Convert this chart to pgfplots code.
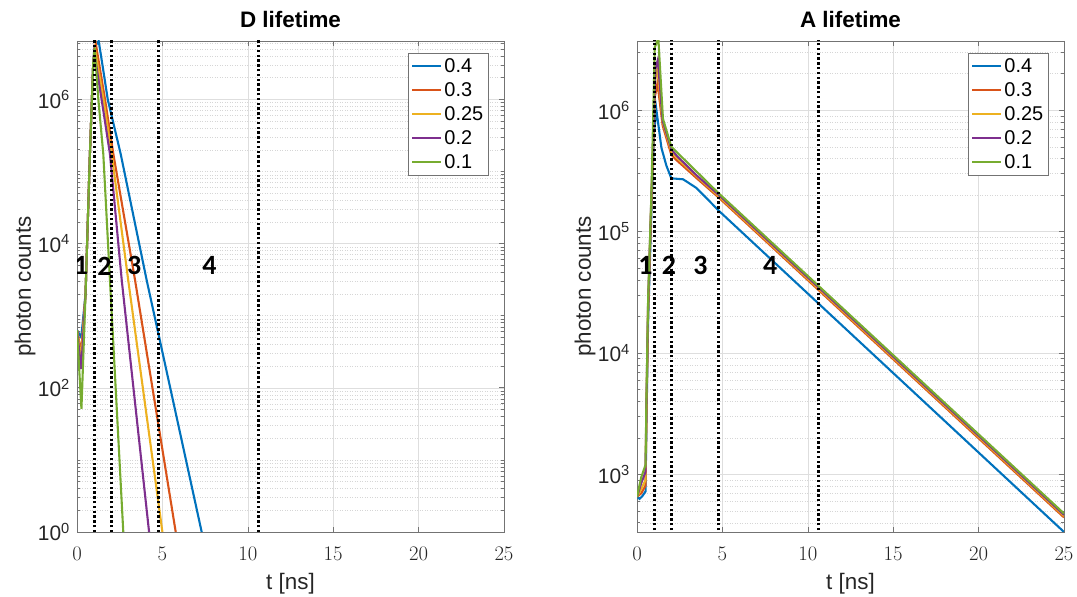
\documentclass[border=0pt]{standalone}
\usepackage{fontspec}
\setmainfont{Liberation Sans}
\newfontfamily\calib{Carlito}
\usepackage{pgfplots}
\pgfplotsset{compat=1.18}
\definecolor{mblue}{rgb}{0,0.447,0.741}
\definecolor{morange}{rgb}{0.85,0.325,0.098}
\definecolor{myellow}{rgb}{0.929,0.694,0.125}
\definecolor{mpurple}{rgb}{0.494,0.184,0.556}
\definecolor{mgreen}{rgb}{0.466,0.674,0.188}
\pgfplotsset{legend image code/.code={\draw[#1] (0bp,0bp) -- (29bp,0bp);}}
\pgfplotsset{
  myax/.style={
    scale only axis, width=427bp, height=491bp,
    xmin=0, xmax=25, xtick={0,5,10,15,20,25},
    grid=both, xminorgrids=false,
    major grid style={line width=0.5bp, color=black!13},
    minor grid style={line width=0.5bp, color=black!16, dash pattern=on 1bp off 1.5bp},
    axis line style={black!55, line width=0.6bp},
    tick style={black!55, line width=0.6bp},
    major tick length=5bp, minor tick length=3bp,
    tick label style={font=\fontsize{21}{22}\selectfont, text=black!85},
    xticklabel style={inner sep=0pt, anchor=north, yshift=-15bp},
    yticklabel style={inner sep=0pt, anchor=east, xshift=-7bp},
    label style={font=\fontsize{22.5}{24}\selectfont, text=black!85},
    xlabel style={at={(axis description cs:0.5,0)}, anchor=north, inner sep=0pt, yshift=-41bp},
    ylabel style={at={(axis description cs:0,0.5)}, anchor=center, inner sep=0pt, yshift=52bp},
    title style={at={(axis description cs:0.5,1)}, anchor=center, inner sep=0pt, yshift=16bp,
      font=\bfseries\fontsize{22.5}{25}\selectfont},
    xlabel={t [ns]}, ylabel={photon counts},
    legend style={at={(0.965,0.976)}, anchor=north east, draw=black!55, line width=0.6bp,
      font=\fontsize{20}{22}\selectfont, row sep=4.5bp, inner sep=3.5bp},
    legend cell align=left,
  },
}
\tikzset{
  vl/.style={black, line width=3bp, dash pattern=on 2.4bp off 2.4bp},
  rl/.style={font=\calib\bfseries\fontsize{28}{30}\selectfont},
  cv/.style={line width=2.1bp},
}
\begin{document}
\begin{tikzpicture}
\path[use as bounding box] (0,0) rectangle (1077bp,597bp);
% ---------------- D lifetime ----------------
\begin{axis}[myax, ymode=log, at={(77bp,65bp)}, anchor=south west,
  title={D lifetime}, ymin=1, ymax=6.45e6,
  ytick={1,100,10000,1000000},
  yticklabels={10\textsuperscript{0},10\textsuperscript{2},10\textsuperscript{4},10\textsuperscript{6}},
  minor ytick={2,3,4,5,6,7,8,9,10,20,30,40,50,60,70,80,90,200,300,400,500,600,700,800,900,1000,2000,3000,4000,5000,6000,7000,8000,9000,20000,30000,40000,50000,60000,70000,80000,90000,100000,200000,300000,400000,500000,600000,700000,800000,900000,2000000,3000000,4000000,5000000,6000000},
]
\addplot[cv, mblue] coordinates {(0,630)(0.25,500)(0.5,2000)(0.75,1.6e5)(0.95,3.2e6)(1.1,5.6e6)(1.27,6.45e6)(1.5,2.9e6)(1.8,1.0e6)(2.56,1.74e5)(4.08,3100)(5.5,90)(7.3,1)(7.6,0.5)};
\addplot[cv, morange] coordinates {(0,630)(0.25,310)(0.5,2000)(0.75,1.6e5)(0.95,3.2e6)(1.11,5.75e6)(1.64,1.0e6)(2.13,1.74e5)(3.4,3100)(5.78,1)(6.1,0.35)};
\addplot[cv, myellow] coordinates {(0,630)(0.25,250)(0.5,2000)(0.75,1.6e5)(0.95,3.2e6)(1.05,5.0e6)(1.55,1.0e6)(2.03,1.74e5)(3.0,3100)(5.0,1)(5.3,0.3)};
\addplot[cv, mpurple] coordinates {(0,630)(0.25,182)(0.5,2000)(0.75,1.6e5)(0.95,3.2e6)(1.0,4.6e6)(1.44,1.0e6)(1.93,1.74e5)(2.62,3100)(4.22,1)(4.5,0.25)};
\addplot[cv, mgreen] coordinates {(0,630)(0.26,51)(0.5,2000)(0.75,1.6e5)(0.95,3.2e6)(1.03,5.2e6)(1.25,1.0e6)(1.54,1.74e5)(1.93,3100)(2.71,1)(2.8,0.4)};
\legend{0.4,0.3,0.25,0.2,0.1}
\addplot[vl, forget plot] coordinates {(1.0,0.1)(1.0,1e8)};
\addplot[vl, forget plot] coordinates {(2.0,0.1)(2.0,1e8)};
\addplot[vl, forget plot] coordinates {(4.8,0.1)(4.8,1e8)};
\addplot[vl, forget plot] coordinates {(10.6,0.1)(10.6,1e8)};
\node[rl] at (axis cs:0.23,4900) {1};
\node[rl] at (axis cs:1.6,4900) {2};
\node[rl] at (axis cs:3.35,4900) {3};
\node[rl] at (axis cs:7.75,4900) {4};
\end{axis}
% ---------------- A lifetime ----------------
\begin{axis}[myax, ymode=log, at={(637bp,65bp)}, anchor=south west,
  title={A lifetime}, ymin=336, ymax=3.72e6,
  ytick={1000,10000,100000,1000000},
  yticklabels={10\textsuperscript{3},10\textsuperscript{4},10\textsuperscript{5},10\textsuperscript{6}},
  minor ytick={400,500,600,700,800,900,2000,3000,4000,5000,6000,7000,8000,9000,20000,30000,40000,50000,60000,70000,80000,90000,200000,300000,400000,500000,600000,700000,800000,900000,2000000,3000000},
]
\addplot[cv, mblue] coordinates {(0,656)(0.15,630)(0.3,660)(0.5,725)(0.55,2500)(0.65,1.8e4)(0.84,1.4e5)(1.0,6.5e5)(1.13,1.02e6)(1.43,4.9e5)(1.72,3.5e5)(2.01,2.75e5)(2.7,2.7e5)(3.48,2.29e5)(4.85,1.46e5)(25,336)};
\addplot[cv, morange] coordinates {(0,656)(0.25,700)(0.5,810)(0.55,3000)(0.65,2.2e4)(0.84,1.7e5)(1.05,1.3e6)(1.2,1.67e6)(1.5,7.5e5)(2.01,4.3e5)(2.3,3.9e5)(3.5,2.75e5)(4.8,1.9e5)(25,443)};
\addplot[cv, myellow] coordinates {(0,656)(0.25,760)(0.5,900)(0.55,3300)(0.65,2.4e4)(0.84,1.8e5)(1.07,1.8e6)(1.2,2.2e6)(1.5,8.0e5)(2.01,4.6e5)(2.3,4.1e5)(3.5,2.85e5)(4.8,1.95e5)(25,455)};
\addplot[cv, mpurple] coordinates {(0,656)(0.25,850)(0.5,1050)(0.55,3600)(0.65,2.6e4)(0.84,1.9e5)(1.08,2.2e6)(1.22,2.6e6)(1.5,8.2e5)(2.01,4.8e5)(2.3,4.25e5)(3.5,2.9e5)(4.8,2.0e5)(25,465)};
\addplot[cv, mgreen] coordinates {(0,656)(0.25,950)(0.5,1200)(0.55,4000)(0.65,2.75e4)(0.84,2.0e5)(1.04,3.3e6)(1.25,3.9e6)(1.52,8.5e5)(2.01,5.0e5)(4.75,2.09e5)(25,477)};
\legend{0.4,0.3,0.25,0.2,0.1}
\addplot[vl, forget plot] coordinates {(1.0,10)(1.0,1e8)};
\addplot[vl, forget plot] coordinates {(2.0,10)(2.0,1e8)};
\addplot[vl, forget plot] coordinates {(4.8,10)(4.8,1e8)};
\addplot[vl, forget plot] coordinates {(10.6,10)(10.6,1e8)};
\node[rl] at (axis cs:0.5,53000) {1};
\node[rl] at (axis cs:1.87,53000) {2};
\node[rl] at (axis cs:3.72,53000) {3};
\node[rl] at (axis cs:7.8,53000) {4};
\end{axis}
\end{tikzpicture}
\end{document}
